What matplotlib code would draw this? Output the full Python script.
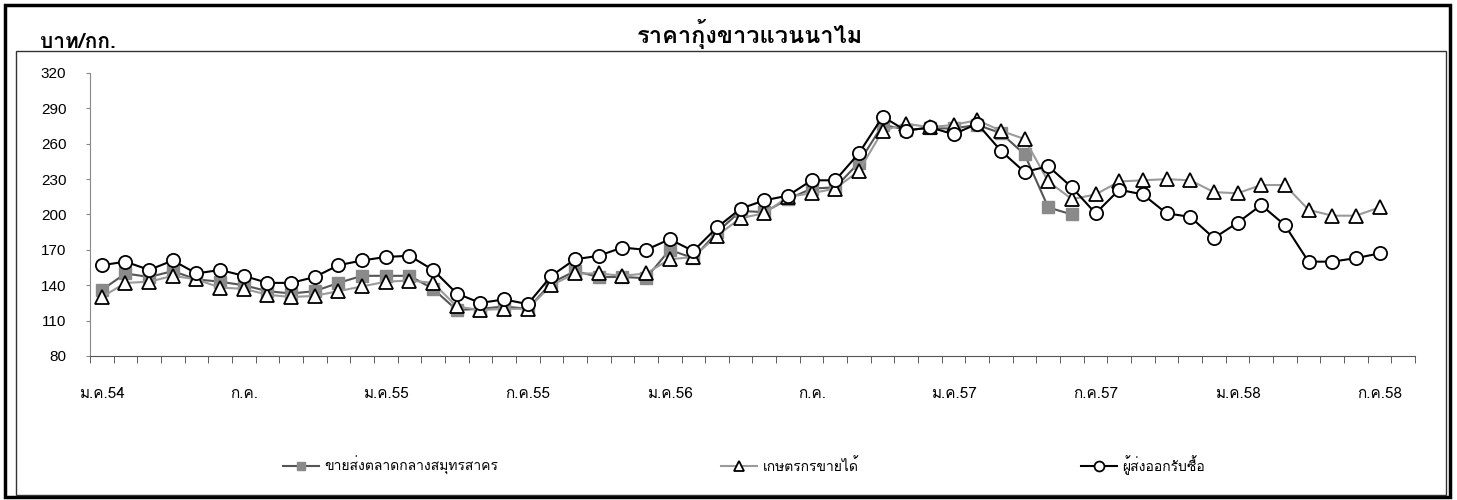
import numpy as np
import matplotlib
matplotlib.use("Agg")
import matplotlib.pyplot as plt
from matplotlib import font_manager
from matplotlib.ft2font import FT2Font
from matplotlib.patches import Rectangle


# find an installed font that has Thai glyphs
def find_thai_fonts():
    names = []
    for f in font_manager.fontManager.ttflist:
        try:
            if 0x0E01 in FT2Font(f.fname).get_charmap() and f.name not in names:
                names.append(f.name)
        except Exception:
            pass
    return names

thai_fonts = find_thai_fonts()
plt.rcParams['font.family'] = thai_fonts + ['DejaVu Sans']

# monthly data, ม.ค.54 .. ก.ค.58
wholesale = [136, 150, 147, 152, 145, 143, 140, 135, 133, 135, 142, 148, 148, 148, 137,
             119, 120, 122, 120, 142, 152, 147, 147, 146, 170, 163, 185, 203, 202, 213,
             222, 223, 244, 276, 272, 273, 273, 276, 269, 251, 206, 200]
farmer = [130, 142, 143, 148, 145, 138, 137, 132, 130, 131, 135, 139, 143, 144, 142,
          122, 119, 120, 120, 140, 150, 150, 148, 150, 162, 164, 182, 197, 201, 215,
          218, 222, 237, 271, 277, 274, 276, 280, 271, 264, 228, 213, 217, 228, 229,
          230, 229, 219, 218, 225, 225, 204, 199, 199, 206]
exporter = [157, 160, 153, 161, 150, 153, 148, 142, 142, 147, 157, 161, 164, 165, 153,
            133, 125, 128, 124, 148, 162, 165, 172, 170, 179, 169, 189, 205, 212, 216,
            229, 229, 252, 283, 271, 274, 268, 277, 254, 236, 241, 223, 201, 221, 217,
            201, 198, 180, 193, 208, 191, 160, 160, 163, 167]

xtick_labels = ['ม.ค.54', 'ก.ค.', 'ม.ค.55', 'ก.ค.55', 'ม.ค.56', 'ก.ค.', 'ม.ค.57',
                'ก.ค.57', 'ม.ค.58', 'ก.ค.58']
series_names = ['ขายส่งตลาดกลางสมุทรสาคร', 'เกษตรกรขายได้', 'ผู้ส่งออกรับซื้อ']
title = 'ราคากุ้งขาวแวนนาไม'
unit = 'บาท/กก.'

W, H = 1457, 500
fig = plt.figure(figsize=(W / 100, H / 100), dpi=100)
ax = fig.add_axes([90 / W, 1 - 356 / H, (1415 - 90) / W, (356 - 73) / H])

ax.plot(np.arange(len(wholesale)), wholesale, color='#555555', lw=1.5,
        marker='s', ms=8, mfc='#8a8a8a', mec='#8a8a8a', zorder=2,
        label=series_names[0])
ax.plot(np.arange(len(farmer)), farmer, color='#9a9a9a', lw=1.5,
        marker='^', ms=9.5, mfc='white', mec='black', mew=1.3, zorder=3,
        label=series_names[1])
ax.plot(np.arange(len(exporter)), exporter, color='black', lw=1.5,
        marker='o', ms=9.5, mfc='white', mec='black', mew=1.3, zorder=4,
        label=series_names[2])

ax.set_xlim(-0.5, 55.5)
ax.set_ylim(80, 320)
ax.set_yticks(np.arange(80, 321, 30))
ax.set_xticks(np.arange(0, 55, 6))
ax.set_xticklabels(xtick_labels, fontsize=11)
ax.set_xticks(np.arange(-0.5, 56, 1), minor=True)
ax.tick_params(axis='x', which='major', length=0, pad=22)
ax.tick_params(axis='x', which='minor', length=5, direction='out', color='#444444')
ax.tick_params(axis='y', length=3, direction='out', color='#888888', pad=14)
for t in ax.get_yticklabels():
    t.set_family('Liberation Sans')
    t.set_fontsize(11)
ax.spines['top'].set_visible(False)
ax.spines['right'].set_visible(False)
ax.spines['left'].set_color('#888888')
ax.spines['bottom'].set_color('#555555')

fig.text(750 / W, 1 - 34 / H, title, ha='center', va='center', fontsize=17, fontweight='bold')
fig.text(40 / W, 1 - 42 / H, unit, ha='left', va='center', fontsize=15, fontweight='bold')

fig.legend(loc='center', bbox_to_anchor=(744 / W, 1 - 465 / H), ncol=3, frameon=False,
           fontsize=10, handlelength=2.6, columnspacing=16, markerscale=0.75,
           handletextpad=0.4)

# frames around the chart
fig.patches.append(Rectangle((5 / W, 3 / H), 1445 / W, 492 / H, transform=fig.transFigure,
                             fill=False, lw=2.5, ec='black'))
fig.patches.append(Rectangle((16 / W, 5 / H), 1430 / W, (449 - 5) / H, transform=fig.transFigure,
                             fill=False, lw=1, ec='#333333'))

fig.savefig('out.png', dpi=100)
